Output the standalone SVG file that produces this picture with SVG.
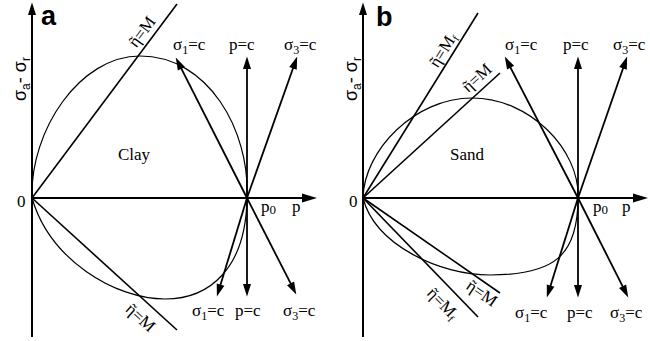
<svg xmlns="http://www.w3.org/2000/svg" width="650" height="341" viewBox="0 0 650 341">
<defs>
<marker id="ah" markerUnits="userSpaceOnUse" markerWidth="14" markerHeight="10" refX="6" refY="4" orient="auto" overflow="visible">
<path d="M0,0 L12.5,4 L0,8 z" fill="#000"/>
</marker>
<marker id="axh" markerUnits="userSpaceOnUse" markerWidth="16" markerHeight="10" refX="8" refY="4.5" orient="auto" overflow="visible">
<path d="M0,0 L15,4.5 L0,9 z" fill="#000"/>
</marker>
</defs>
<style>
.ax{stroke:#000;stroke-width:2;fill:none}
.ar{stroke:#000;stroke-width:1.8;fill:none;marker-end:url(#ah)}
.ln{stroke:#000;stroke-width:1.6;fill:none}
.el{stroke:#000;stroke-width:1.2;fill:none}
.t{font-family:"Liberation Serif","Times New Roman",serif;font-size:17px;fill:#000}
.s{font-family:"Liberation Sans",Arial,sans-serif;font-size:18px;fill:#000}
.big{font-family:"Liberation Sans",Arial,sans-serif;font-size:27px;font-weight:bold;fill:#000}
</style>
<rect width="650" height="341" fill="#fff"/>

<g id="panel-a">
<g id="a-connectors">
<line class="ax" x1="32" y1="337" x2="32" y2="9" style="marker-end:url(#ah)"/>
<line class="ax" x1="32" y1="198" x2="310" y2="198" style="marker-end:url(#axh)"/>
<path class="el" d="M32,198 C30,130 80,56 140,56 C208,56 250,130 247,198 C246,268 210,299 165,299 C115,299 50,260 32,198 Z"/>
<line class="ln" x1="32" y1="198" x2="177" y2="4"/>
<line class="ln" x1="32" y1="198" x2="177" y2="330"/>
<line class="ar" x1="247" y1="198" x2="178.7" y2="63.4"/>
<line class="ar" x1="247" y1="198" x2="247" y2="63"/>
<line class="ar" x1="247" y1="198" x2="295" y2="62.7"/>
<line class="ar" x1="247" y1="198" x2="218.8" y2="290.3"/>
<line class="ar" x1="247" y1="198" x2="247" y2="290"/>
<line class="ar" x1="247" y1="198" x2="293.3" y2="288.7"/>
</g>
<text class="big" x="41" y="25">a</text>
<text class="s" transform="translate(26,101) rotate(-90)">σ<tspan font-size="12" dy="4">a</tspan><tspan dy="-4">- σ</tspan><tspan font-size="12" dy="4">r</tspan></text>
<text class="t" x="17" y="207">0</text>
<text class="t" x="261" y="212">p<tspan font-size="13" dy="2">0</tspan></text>
<text class="t" x="292" y="212">p</text>
<text class="t" x="118" y="160">Clay</text>
<text class="t" text-anchor="middle" transform="translate(146.3,35.2) rotate(-52.9)">η<tspan dx="-7.3">˜</tspan><tspan dx="1.6">=M</tspan></text>
<text class="t" text-anchor="middle" transform="translate(136.8,321.7) rotate(42.3)">η<tspan dx="-7.3">˜</tspan><tspan dx="1.6">=M</tspan></text>
<text class="t" x="173" y="50">σ<tspan font-size="12" dy="4">1</tspan><tspan dy="-4">=c</tspan></text>
<text class="t" x="229" y="50">p=c</text>
<text class="t" x="284" y="50">σ<tspan font-size="12" dy="4">3</tspan><tspan dy="-4">=c</tspan></text>
<text class="t" x="192" y="316">σ<tspan font-size="12" dy="4">1</tspan><tspan dy="-4">=c</tspan></text>
<text class="t" x="235" y="316">p=c</text>
<text class="t" x="283" y="316">σ<tspan font-size="12" dy="4">3</tspan><tspan dy="-4">=c</tspan></text>
</g>

<g id="panel-b">
<g id="b-connectors">
<line class="ax" x1="363" y1="337" x2="363" y2="9" style="marker-end:url(#ah)"/>
<line class="ax" x1="363" y1="198" x2="641" y2="198" style="marker-end:url(#axh)"/>
<path class="el" d="M363,198 C364,150 415,98 472,98 C530,98 580,150 578,198 C578,255 555,275 490,275 C440,275 375,245 363,198 Z"/>
<line class="ln" x1="363" y1="198" x2="478" y2="13"/>
<line class="ln" x1="363" y1="198" x2="500" y2="73"/>
<line class="ln" x1="363" y1="198" x2="478" y2="317"/>
<line class="ln" x1="363" y1="198" x2="500" y2="293"/>
<line class="ar" x1="578" y1="198" x2="507.8" y2="62.3"/>
<line class="ar" x1="578" y1="198" x2="578" y2="63"/>
<line class="ar" x1="578" y1="198" x2="625" y2="62.7"/>
<line class="ar" x1="578" y1="198" x2="548.8" y2="291.3"/>
<line class="ar" x1="578" y1="198" x2="578" y2="291"/>
<line class="ar" x1="578" y1="198" x2="625.3" y2="291.6"/>
</g>
<text class="big" x="376" y="26">b</text>
<text class="s" transform="translate(357,101) rotate(-90)">σ<tspan font-size="12" dy="4">a</tspan><tspan dy="-4">- σ</tspan><tspan font-size="12" dy="4">r</tspan></text>
<text class="t" x="349" y="207">0</text>
<text class="t" x="593" y="212">p<tspan font-size="13" dy="2">0</tspan></text>
<text class="t" x="622" y="212">p</text>
<text class="t" x="450" y="160">Sand</text>
<text class="t" text-anchor="middle" transform="translate(447.5,52.9) rotate(-58.1)">η<tspan dx="-7.3">˜</tspan><tspan dx="1.6">=M</tspan><tspan font-size="11" dy="3">f</tspan></text>
<text class="t" text-anchor="middle" transform="translate(480.6,81.9) rotate(-42.4)">η<tspan dx="-7.3">˜</tspan><tspan dx="1.6">=M</tspan></text>
<text class="t" text-anchor="middle" transform="translate(438.9,307.4) rotate(46)">η<tspan dx="-7.3">˜</tspan><tspan dx="1.6">=M</tspan><tspan font-size="11" dy="3">f</tspan></text>
<text class="t" text-anchor="middle" transform="translate(478.7,297.7) rotate(34.7)">η<tspan dx="-7.3">˜</tspan><tspan dx="1.6">=M</tspan></text>
<text class="t" x="505" y="50">σ<tspan font-size="12" dy="4">1</tspan><tspan dy="-4">=c</tspan></text>
<text class="t" x="563" y="50">p=c</text>
<text class="t" x="613" y="50">σ<tspan font-size="12" dy="4">3</tspan><tspan dy="-4">=c</tspan></text>
<text class="t" x="515" y="318">σ<tspan font-size="12" dy="4">1</tspan><tspan dy="-4">=c</tspan></text>
<text class="t" x="567" y="318">p=c</text>
<text class="t" x="610" y="318">σ<tspan font-size="12" dy="4">3</tspan><tspan dy="-4">=c</tspan></text>
</g>
</svg>
